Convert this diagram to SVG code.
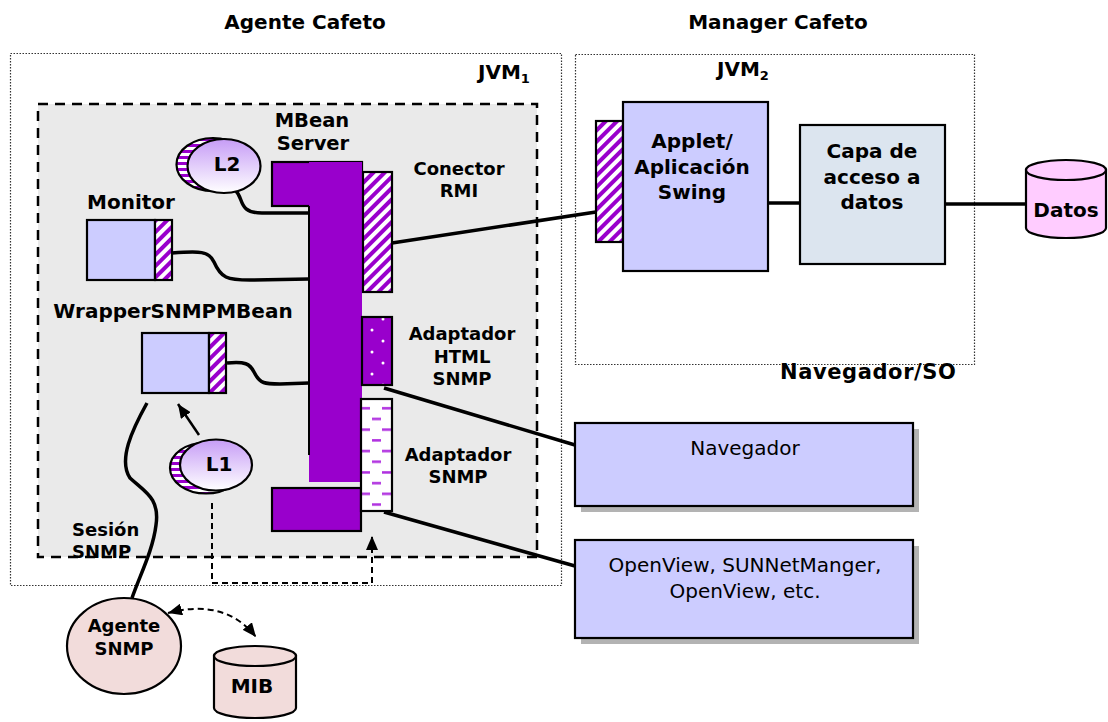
<svg xmlns="http://www.w3.org/2000/svg" width="1108" height="722" viewBox="0 0 1108 722">
<style>
text{font-family:"DejaVu Sans","Verdana",sans-serif;fill:#000}
.b{font-weight:bold;font-size:20px}
.s{font-weight:bold;font-size:18px}
.n{font-size:20px}
.m{text-anchor:middle}
.line{fill:none;stroke:#000;stroke-width:3.5}
.thin{fill:none;stroke:#000;stroke-width:2.5}
.dash{fill:none;stroke:#000;stroke-width:2;stroke-dasharray:6,4}
.box{stroke:#000;stroke-width:2.2}
.purple{fill:#9900cc;stroke:#000;stroke-width:2.2}
.lav{fill:#ccccff}
.dot{fill:none;stroke:#333;stroke-width:1.2;stroke-dasharray:1.5,1.5}
</style>
<defs>
<pattern id="diag" width="8" height="8" patternUnits="userSpaceOnUse" patternTransform="rotate(45)">
<rect width="8" height="8" fill="#fff"/>
<rect width="4" height="8" fill="#9900cc"/>
</pattern>
<pattern id="hstripe" width="6" height="6" patternUnits="userSpaceOnUse">
<rect width="6" height="6" fill="#fff"/>
<rect width="6" height="3" fill="#9900cc"/>
</pattern>
<pattern id="dots" x="361" y="308" width="22" height="22" patternUnits="userSpaceOnUse">
<rect width="22" height="22" fill="#9900cc"/>
<circle cx="0" cy="11" r="1.5" fill="#fff"/>
<circle cx="22" cy="11" r="1.5" fill="#fff"/>
<circle cx="11" cy="0" r="1.5" fill="#fff"/>
<circle cx="11" cy="22" r="1.5" fill="#fff"/>
</pattern>
<pattern id="dashes" x="361" y="403" width="31" height="21.4" patternUnits="userSpaceOnUse">
<rect width="31" height="21.4" fill="#fff"/>
<rect x="1" y="4" width="8" height="2.5" fill="#b030e0"/>
<rect x="21" y="4" width="9" height="2.5" fill="#b030e0"/>
<rect x="11" y="14.7" width="9" height="2.5" fill="#b030e0"/>
</pattern>
<linearGradient id="lgrad" x1="0" y1="0" x2="0" y2="1">
<stop offset="0" stop-color="#c69cf6"/>
<stop offset="1" stop-color="#ffffff"/>
</linearGradient>
<marker id="arr" viewBox="0 0 14 12" refX="14" refY="6" markerWidth="14" markerHeight="12" orient="auto-start-reverse" markerUnits="userSpaceOnUse">
<path d="M0,0 L14,6 L0,12 z" fill="#000"/>
</marker>
</defs>

<rect width="1108" height="722" fill="#fff"/>

<g id="titles">
<text class="b m" x="305" y="29">Agente Cafeto</text>
<text class="b m" x="778" y="29">Manager Cafeto</text>
</g>

<g id="jvm1">
<rect class="dot" x="10.5" y="53.5" width="551" height="532"/>
<text class="b" x="478" y="79">JVM<tspan font-size="13" dy="4">1</tspan></text>
</g>
<g id="jvm2">
<rect class="dot" x="575.5" y="54.5" width="399" height="310"/>
<text class="b" x="717" y="76">JVM<tspan font-size="13" dy="4">2</tspan></text>
</g>

<g id="inner">
<rect x="38" y="104" width="499" height="453" fill="#eaeaea" stroke="#000" stroke-width="2.5" stroke-dasharray="10,7"/>
</g>

<g id="connectors">
<path class="line" d="M236,191 C244,199 238,213 262,213 L309,213"/>
<path class="line" d="M172,253 C200,251 209,251 214,262 C221,278 227,280 250,280 L309,279"/>
<path class="line" d="M227,363 C245,361 250,364 254,372 C260,384 265,384 280,384 L309,383"/>
<path class="line" d="M392,243 L596,212"/>
<path class="line" d="M768,203 L800,203"/>
<path class="line" d="M945,204 L1026,204"/>
<path class="line" d="M384,388 L575,445"/>
<path class="line" d="M384,512 L575,566"/>
<path class="line" d="M147,403 C132,430 118,460 130,478 C145,492 160,498 156,525 C153,550 140,575 132,598"/>
<path class="thin" d="M199,435 L178,404" marker-end="url(#arr)"/>
<path class="dash" d="M212,503 L212,583 L372,583 L372,536" marker-end="url(#arr)"/>
<path class="dash" d="M168,613 Q225,598 256,637" marker-start="url(#arr)" marker-end="url(#arr)"/>
</g>

<g id="mbeanserver">
<rect class="purple" x="272" y="162" width="90" height="44"/>
<rect class="purple" x="272" y="488" width="89" height="43"/>
<rect x="309" y="162" width="53" height="320" fill="#9900cc"/>
<path d="M309,206 L309,455" stroke="#000" stroke-width="2"/>
<text class="m" font-weight="bold" font-size="19.5" x="312" y="127">MBean</text>
<text class="m" font-weight="bold" font-size="19.5" x="313" y="150">Server</text>
</g>

<g id="conectorRMI">
<rect class="box" x="363" y="172" width="29" height="120" fill="url(#diag)"/>
<text class="s m" x="459" y="175">Conector</text>
<text class="s m" x="459" y="197">RMI</text>
</g>

<g id="adaptadorHTML">
<rect class="box" x="362" y="317" width="30" height="68" fill="url(#dots)"/>
<text class="s m" x="462" y="340">Adaptador</text>
<text class="s m" x="462" y="363">HTML</text>
<text class="s m" x="462" y="385">SNMP</text>
</g>

<g id="adaptadorSNMP">
<rect class="box" x="361" y="399" width="31" height="112" fill="url(#dashes)"/>
<text class="s m" x="458" y="461">Adaptador</text>
<text class="s m" x="458" y="483">SNMP</text>
</g>

<g id="L2">
<ellipse class="box" cx="213" cy="164.5" rx="36.5" ry="26.5" fill="url(#hstripe)"/>
<ellipse class="box" cx="224" cy="166" rx="36.5" ry="27" fill="url(#lgrad)"/>
<text class="b m" x="227" y="171">L2</text>
</g>

<g id="monitor">
<text class="b m" x="131" y="209">Monitor</text>
<rect class="box lav" x="87" y="220" width="68" height="60"/>
<rect class="box" x="155" y="220" width="17" height="60" fill="url(#diag)"/>
</g>

<g id="wrapper">
<text class="b m" x="173" y="318">WrapperSNMPMBean</text>
<rect class="box lav" x="142" y="333" width="67" height="60"/>
<rect class="box" x="209" y="333" width="17" height="60" fill="url(#diag)"/>
</g>

<g id="L1">
<ellipse class="box" cx="206" cy="468" rx="36" ry="25.5" fill="url(#hstripe)"/>
<ellipse class="box" cx="216" cy="465" rx="36" ry="25.5" fill="url(#lgrad)"/>
<text class="b m" x="219" y="471">L1</text>
</g>

<g id="sesion">
<text class="s" x="72" y="536">Sesión</text>
<text class="s" x="72" y="558">SNMP</text>
</g>

<g id="agenteSNMP">
<ellipse class="box" cx="124" cy="646" rx="57" ry="48" fill="#f2dcdb"/>
<text class="s m" x="124" y="632">Agente</text>
<text class="s m" x="124" y="655">SNMP</text>
</g>

<g id="mib">
<path class="box" d="M214,656 L214,708 A41,10 0 0 0 296,708 L296,656 Z" fill="#f2dcdb"/>
<ellipse class="box" cx="255" cy="656" rx="41" ry="10" fill="#f2dcdb"/>
<text class="b m" x="252" y="693">MIB</text>
</g>

<g id="applet">
<rect class="box" x="596" y="121" width="27" height="121" fill="url(#diag)"/>
<rect class="box lav" x="623" y="102" width="145" height="169"/>
<text class="b m" x="692" y="148">Applet/</text>
<text class="b m" x="692" y="174">Aplicación</text>
<text class="b m" x="692" y="199">Swing</text>
</g>

<g id="capa">
<rect class="box" x="800" y="125" width="145" height="139" fill="#dce5ef"/>
<text class="b m" x="872" y="158">Capa de</text>
<text class="b m" x="872" y="184">acceso a</text>
<text class="b m" x="872" y="209">datos</text>
</g>

<g id="datos">
<path class="box" d="M1026,170 L1026,228 A40,10 0 0 0 1106,228 L1106,170 Z" fill="#ffccff"/>
<ellipse class="box" cx="1066" cy="170" rx="40" ry="10" fill="#ffccff"/>
<text class="b m" x="1066" y="217">Datos</text>
</g>

<g id="navegadorSO">
<text font-weight="bold" font-size="21" letter-spacing="0.6" x="780" y="379">Navegador/SO</text>
</g>

<g id="navegador">
<rect x="581" y="429" width="338" height="83" fill="#b3b3b3"/>
<rect class="box lav" x="575" y="423" width="338" height="83"/>
<text class="n m" x="745" y="455">Navegador</text>
</g>

<g id="openview">
<rect x="581" y="546" width="338" height="98" fill="#b3b3b3"/>
<rect class="box lav" x="575" y="540" width="338" height="98"/>
<text class="n m" x="745" y="572">OpenView, SUNNetManger,</text>
<text class="n m" x="745" y="598">OpenView, etc.</text>
</g>
</svg>
